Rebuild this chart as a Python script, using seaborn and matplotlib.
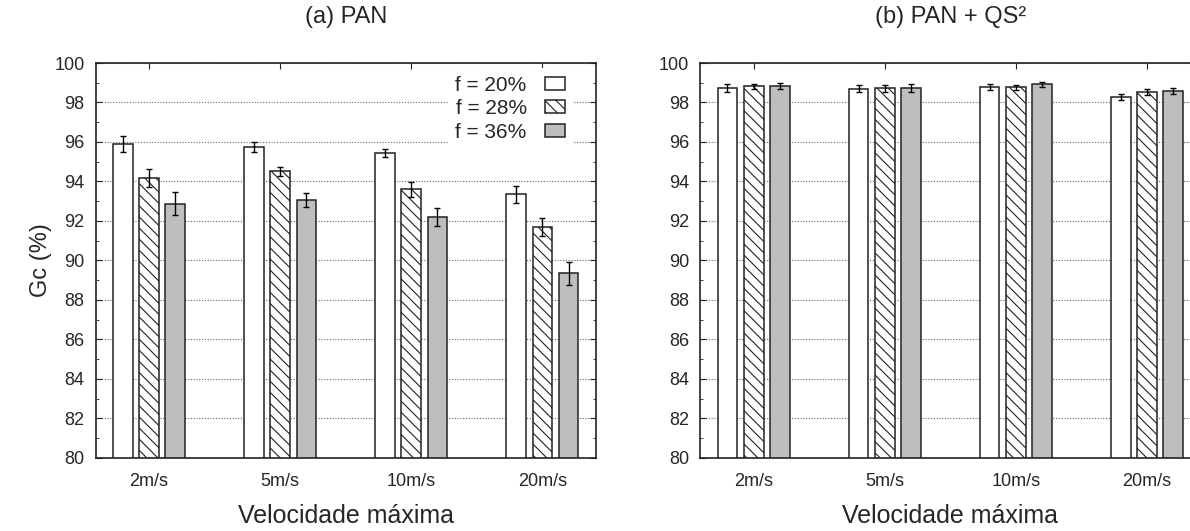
import numpy as np
import pandas as pd
import matplotlib
matplotlib.use("Agg")
import matplotlib.pyplot as plt
from matplotlib.ticker import MultipleLocator
import seaborn as sns

sns.set_style("ticks")
plt.rcParams['font.family'] = ['Liberation Sans', 'DejaVu Sans']
plt.rcParams['hatch.linewidth'] = 0.8

# data
speeds = ['2m/s', '5m/s', '10m/s', '20m/s']
levels = ['f = 20%', 'f = 28%', 'f = 36%']

pan_20 = [95.88, 95.74, 95.43, 93.35]
pan_28 = [94.19, 94.51, 93.60, 91.68]
pan_36 = [92.87, 93.04, 92.18, 89.35]
pan_err_20 = [0.40, 0.25, 0.21, 0.43]
pan_err_28 = [0.46, 0.24, 0.37, 0.46]
pan_err_36 = [0.58, 0.36, 0.45, 0.58]

qs_20 = [98.73, 98.70, 98.80, 98.28]
qs_28 = [98.82, 98.72, 98.77, 98.52]
qs_36 = [98.83, 98.73, 98.92, 98.57]
qs_err_20 = [0.21, 0.18, 0.16, 0.16]
qs_err_28 = [0.13, 0.17, 0.14, 0.15]
qs_err_36 = [0.15, 0.20, 0.11, 0.14]

colors = ['white', 'white', '#bebebe']
hatches = ['', '\\\\\\', '']


def long_df(vals):
    rows = []
    for lev, v in zip(levels, vals):
        for s, x in zip(speeds, v):
            rows.append({'speed': s, 'f': lev, 'Gc': x})
    return pd.DataFrame(rows)


def draw_panel(ax, vals, errs, title, show_legend=False):
    df = long_df(vals)
    sns.barplot(data=df, x='speed', y='Gc', hue='f', order=speeds, hue_order=levels,
                palette=colors, width=0.6, gap=0.25, errorbar=None,
                edgecolor='#222222', linewidth=1.1, legend=False, ax=ax, zorder=2)
    bar_conts = list(ax.containers)
    for cont, h, v, e in zip(bar_conts, hatches, vals, errs):
        xs = []
        for bar in cont:
            bar.set_hatch(h)
            xs.append(bar.get_x() + bar.get_width() / 2)
        ax.errorbar(xs, v, yerr=e, fmt='none', ecolor='black', elinewidth=1,
                    capsize=2, capthick=1, zorder=3)
    ax.set_ylim(80, 100)
    ax.set_xlim(-0.407, 3.407)
    ax.yaxis.set_major_locator(MultipleLocator(2))
    ax.yaxis.set_minor_locator(MultipleLocator(1))
    ax.set_axisbelow(True)
    ax.yaxis.grid(True, which='major', linestyle=(0, (1, 1.5)), color='#666666', lw=0.8)
    ax.tick_params(axis='both', which='both', direction='in', top=True, right=True,
                   labelsize=13, color='#222222')
    ax.tick_params(axis='both', which='major', length=4, pad=8)
    ax.tick_params(axis='x', which='major', pad=11)
    ax.tick_params(axis='y', which='minor', length=2.5)
    for sp in ax.spines.values():
        sp.set_linewidth(1.2)
        sp.set_color('#222222')
    ax.set_title(title, fontsize=17, pad=29)
    ax.set_xlabel('Velocidade máxima', fontsize=18, labelpad=10)
    if show_legend:
        handles = [c.patches[0] for c in bar_conts]
        leg = ax.legend(handles, levels, loc='upper right', fontsize=15,
                        bbox_to_anchor=(0.964, 1.0),
                        markerfirst=False, frameon=True, fancybox=False,
                        facecolor='white', edgecolor='none', framealpha=1,
                        handlelength=0.95, handleheight=0.6, handletextpad=0.9,
                        labelspacing=0.22, borderpad=0.35, borderaxespad=0.25)
        leg.set_zorder(5)


fig = plt.figure(figsize=(11.9, 5.31), dpi=100)
ax1 = fig.add_axes([0.0804, 0.138, 0.4202, 0.7433])
ax2 = fig.add_axes([0.5885, 0.138, 0.4202, 0.7433])

draw_panel(ax1, [pan_20, pan_28, pan_36], [pan_err_20, pan_err_28, pan_err_36],
           '(a) PAN', show_legend=True)
draw_panel(ax2, [qs_20, qs_28, qs_36], [qs_err_20, qs_err_28, qs_err_36],
           '(b) PAN + QS²')
ax1.set_ylabel('Gc (%)', fontsize=17, labelpad=2)
ax2.set_ylabel('')

fig.savefig('out.png', dpi=100)
